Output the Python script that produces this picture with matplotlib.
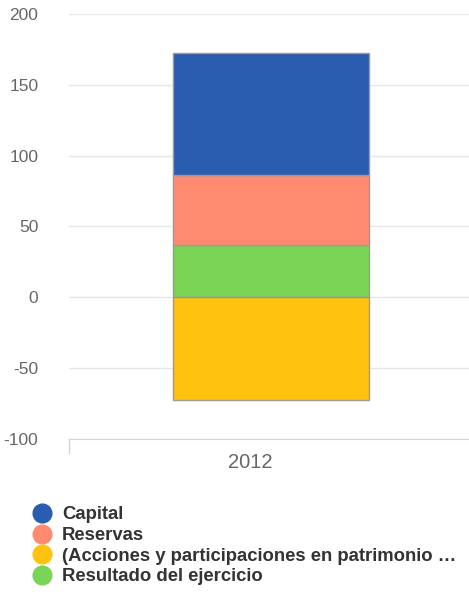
import matplotlib.pyplot as plt
from matplotlib.lines import Line2D
from matplotlib.transforms import ScaledTranslation

plt.rcParams['font.family'] = ['Liberation Sans', 'DejaVu Sans']
plt.rcParams['axes.unicode_minus'] = False

# data
years = ['2012']
capital = [86.6]
reservas = [48.9]
acciones = [-72.7]
resultado = [37.2]

labels = ['Capital', 'Reservas',
          '(Acciones y participaciones en patrimonio …',
          'Resultado del ejercicio']
colors = ['#2a5db0', '#ff8a70', '#ffc20e', '#7ad455']

fig = plt.figure(figsize=(4.69, 5.92), dpi=100)
ax = fig.add_axes([69 / 469, 1 - 439 / 592, 400 / 469, 425 / 592])

x = range(len(years))
edge = dict(edgecolor='#9a9a9a', linewidth=1, width=0.49)

# positive stack: resultado, reservas, capital; negative: acciones
ax.bar(x, resultado, color=colors[3], **edge, zorder=3)
base = resultado[0]
ax.bar(x, reservas, bottom=base, color=colors[1], **edge, zorder=3)
base += reservas[0]
ax.bar(x, capital, bottom=base, color=colors[0], **edge, zorder=3)
ax.bar(x, acciones, color=colors[2], **edge, zorder=3)

ax.set_ylim(-100, 200)
ax.set_xlim(-0.505, 0.495)
ax.set_yticks(range(-100, 201, 50))
ax.set_xticks(list(x))
ax.set_xticklabels(years)

ax.grid(axis='y', color='#e6e6e6', linewidth=1, zorder=0)
for s in ['top', 'right', 'left']:
    ax.spines[s].set_visible(False)
ax.spines['bottom'].set_color('#ccd6eb')
ax.tick_params(axis='y', length=0, pad=22, labelsize=12.5, labelcolor='#666666')
ax.tick_params(axis='x', length=0, pad=10, labelsize=14.5, labelcolor='#666666')
for lbl in ax.get_xticklabels():
    lbl.set_transform(lbl.get_transform() + ScaledTranslation(-0.21, 0, fig.dpi_scale_trans))

# small tick at left end of x axis
ax.plot([-0.505, -0.505], [-100, -109.8], color='#ccd6eb', lw=1, clip_on=False)

handles = [Line2D([], [], marker='o', linestyle='', markersize=13.5, color=c)
           for c in colors]
leg = fig.legend(handles, labels, loc='upper left',
                 bbox_to_anchor=(24 / 469, 1 - 499 / 592), frameon=False,
                 prop={'weight': 'bold', 'size': 13.3}, labelspacing=0.2,
                 handletextpad=0.45, handlelength=1.2, borderaxespad=0)
for t in leg.get_texts():
    t.set_color('#333333')

fig.savefig('out.png', dpi=100)
